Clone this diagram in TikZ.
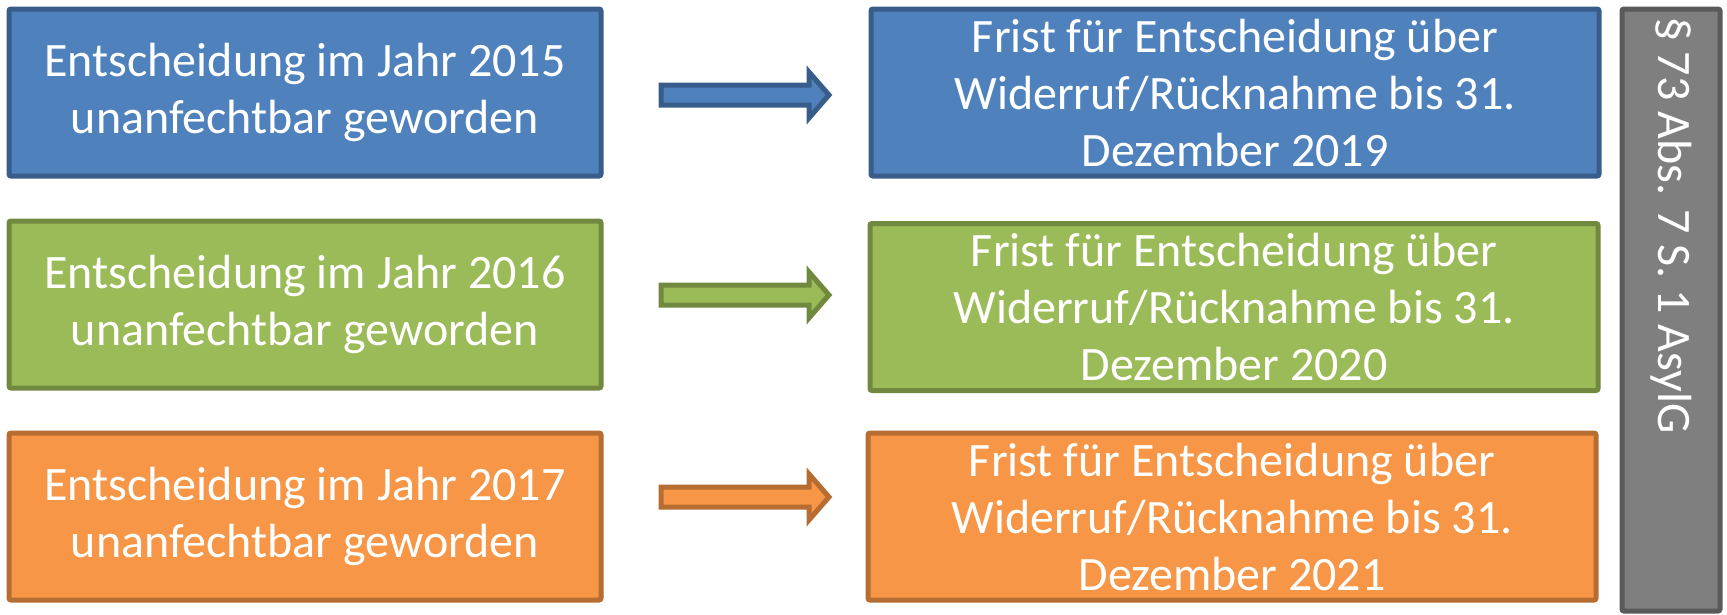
\documentclass[tikz,border=0pt]{standalone}
\usepackage{fontspec}
\setmainfont{Carlito}
\definecolor{bluefill}{HTML}{4F81BD}
\definecolor{blueline}{HTML}{385D8A}
\definecolor{greenfill}{HTML}{9BBB59}
\definecolor{greenline}{HTML}{71893F}
\definecolor{orangefill}{HTML}{F79646}
\definecolor{orangeline}{HTML}{B66D31}
\definecolor{grayfill}{HTML}{7F7F7F}
\definecolor{grayline}{HTML}{5A5A5A}
\tikzset{
  box/.style={draw=#1line, fill=#1fill, line width=5pt, rounded corners=2pt,
    text=white, align=center, inner sep=0pt,
    font=\fontsize{48}{57}\selectfont},
  leftbox/.style={box=#1, minimum width=592pt, minimum height=167pt},
  rightbox/.style={box=#1, minimum width=728pt, minimum height=167pt}
}
\newcommand{\blockarrow}[2]{%
  \draw[line width=5pt, draw=#1line, fill=#1fill, line join=miter]
    (661,#2-10) -- (809,#2-10) -- (809,#2-23) -- (829,#2) -- (809,#2+23)
    -- (809,#2+10) -- (661,#2+10) -- cycle;}

\begin{document}
\begin{tikzpicture}[x=1pt,y=-1pt]
\useasboundingbox (0,0) rectangle (1727,614);
\node[leftbox=blue] (e15) at (305,92.5) {Entscheidung im Jahr 2015\\unanfechtbar geworden};
\node[leftbox=green] (e16) at (305,304.5) {Entscheidung im Jahr 2016\\unanfechtbar geworden};
\node[leftbox=orange] (e17) at (305,516.5) {Entscheidung im Jahr 2017\\unanfechtbar geworden};
\node[rightbox=blue] (f19) at (1235,92.5) {Frist für Entscheidung über\\Widerruf/Rücknahme bis 31.\\Dezember 2019};
\node[rightbox=green] (f20) at (1234,307) {Frist für Entscheidung über\\Widerruf/Rücknahme bis 31.\\Dezember 2020};
\node[rightbox=orange] (f21) at (1232,516.5) {Frist für Entscheidung über\\Widerruf/Rücknahme bis 31.\\Dezember 2021};
\blockarrow{blue}{95}
\blockarrow{green}{295}
\blockarrow{orange}{497}
\node[box=gray, minimum width=98pt, minimum height=602pt] (law) at (1671,310) {};
\node[rotate=-90, anchor=west, inner sep=0pt, text=white,
  font=\fontsize{48}{57}\selectfont] (lawtext) at (1671,17) {§ 73 Abs. 7 S. 1 AsylG};
\end{tikzpicture}
\end{document}
